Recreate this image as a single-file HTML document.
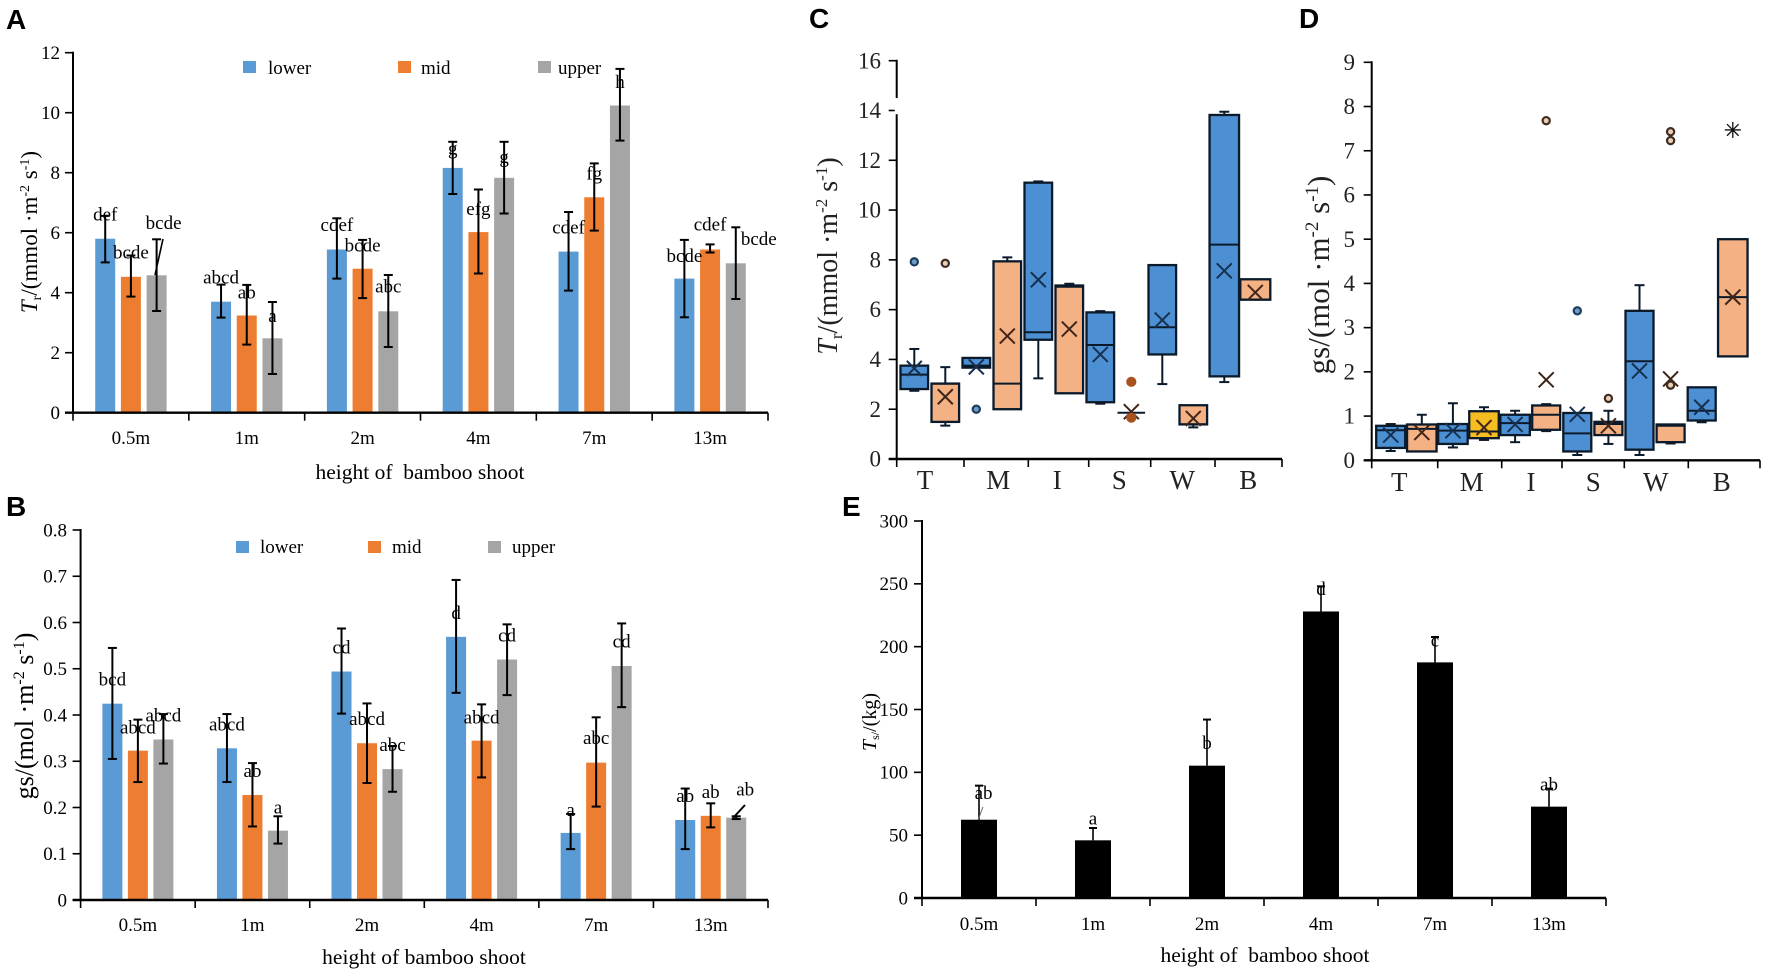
<!DOCTYPE html>
<html lang="en">
<head>
<meta charset="utf-8">
<title>Bamboo shoot transpiration and stomatal conductance</title>
<style>
html,body{margin:0;padding:0;background:#fff;}
svg{display:block;font-family:"Liberation Serif",serif;}
.panel-letter{font-family:"Liberation Sans",sans-serif;font-weight:700;}
</style>
</head>
<body>
<svg id="fig" xmlns="http://www.w3.org/2000/svg" width="1772" height="978" viewBox="0 0 1772 978">
  <rect x="0" y="0" width="1772" height="978" fill="#fff"/>

  <text class="panel-letter" x="6" y="29" font-size="28">A</text>
  <text class="panel-letter" x="6" y="516" font-size="28">B</text>
  <text class="panel-letter" x="809" y="28" font-size="28">C</text>
  <text class="panel-letter" x="1299" y="28" font-size="28">D</text>
  <text class="panel-letter" x="842" y="516" font-size="28">E</text>

  <text transform="translate(37,232) rotate(-90)" text-anchor="middle" font-size="23"><tspan font-style="italic">T</tspan><tspan font-size="14" dy="4">r</tspan><tspan dy="-4">/(mmol ·m</tspan><tspan font-size="14" dy="-8">-2</tspan><tspan dy="8"> s</tspan><tspan font-size="14" dy="-8">-1</tspan><tspan dy="8">)</tspan></text>
  <text x="420" y="479" text-anchor="middle" font-size="21.5" xml:space="preserve">height of  bamboo shoot</text>

  <text transform="translate(33,716) rotate(-90)" text-anchor="middle" font-size="26">gs/(mol ·m<tspan font-size="16" dy="-9">-2</tspan><tspan dy="9"> s</tspan><tspan font-size="16" dy="-9">-1</tspan><tspan dy="9">)</tspan></text>
  <text x="424" y="964" text-anchor="middle" font-size="21.5">height of bamboo shoot</text>

  <text transform="translate(837,256) rotate(-90)" text-anchor="middle" font-size="28" fill="#222"><tspan font-style="italic">T</tspan><tspan font-size="17" dy="5">r</tspan><tspan dy="-5">/(mmol ·m</tspan><tspan font-size="17" dy="-10">-2</tspan><tspan dy="10"> s</tspan><tspan font-size="17" dy="-10">-1</tspan><tspan dy="10">)</tspan></text>

  <text transform="translate(1329,275) rotate(-90)" text-anchor="middle" font-size="31" fill="#222">gs/(mol ·m<tspan font-size="19" dy="-11">-2</tspan><tspan dy="11"> s</tspan><tspan font-size="19" dy="-11">-1</tspan><tspan dy="11">)</tspan></text>

  <text transform="translate(876,722) rotate(-90)" text-anchor="middle" font-size="20"><tspan font-style="italic">T</tspan><tspan font-size="12" dy="3">s/</tspan><tspan dy="-3">/(kg)</tspan></text>
  <text x="1265" y="962" text-anchor="middle" font-size="21.5" xml:space="preserve">height of  bamboo shoot</text>

  <g id="legend-a">
    <rect x="243" y="61" width="13" height="12" fill="#5b9bd5"/>
    <text x="268" y="74" font-size="19">lower</text>
    <rect x="398" y="61" width="13" height="12" fill="#ed7d31"/>
    <text x="421" y="74" font-size="19">mid</text>
    <rect x="538" y="61" width="13" height="12" fill="#a5a5a5"/>
    <text x="558" y="74" font-size="19">upper</text>
  </g>
  <g id="legend-b">
    <rect x="236" y="541" width="13" height="12" fill="#5b9bd5"/>
    <text x="260" y="553" font-size="19">lower</text>
    <rect x="368" y="541" width="13" height="12" fill="#ed7d31"/>
    <text x="392" y="553" font-size="19">mid</text>
    <rect x="488" y="541" width="13" height="12" fill="#a5a5a5"/>
    <text x="512" y="553" font-size="19">upper</text>
  </g>

  <g id="panel-a"></g>
  <g id="panel-b"></g>
  <g id="panel-c"></g>
  <g id="panel-d"></g>
  <g id="panel-e"></g>

  <line x1="163" y1="239" x2="155" y2="275" stroke="#000" stroke-width="1.6"/>
  <line x1="745" y1="805" x2="733" y2="818" stroke="#000" stroke-width="2"/>
  <line x1="983" y1="807" x2="978" y2="820" stroke="#666" stroke-width="1"/>
</svg>

<script>
const heightCategories = ['0.5m', '1m', '2m', '4m', '7m', '13m'];
const organCategories = ['T', 'M', 'I', 'S', 'W', 'B'];

/* Panel A */
const aTicks = [0, 2, 4, 6, 8, 10, 12];
const aLower = [5.8, 3.7, 5.44, 8.16, 5.37, 4.47];
const aMid = [4.53, 3.24, 4.8, 6.02, 7.18, 5.44];
const aUpper = [4.58, 2.48, 3.38, 7.83, 10.24, 4.98];
const aLowerHi = [6.56, 4.27, 6.48, 9.03, 6.69, 5.76];
const aLowerLo = [5.01, 3.17, 4.47, 7.29, 4.07, 3.18];
const aMidHi = [5.24, 4.26, 5.76, 7.44, 8.31, 5.61];
const aMidLo = [3.87, 2.27, 3.82, 4.64, 6.07, 5.34];
const aUpperHi = [5.78, 3.69, 4.59, 9.03, 11.46, 6.18];
const aUpperLo = [3.39, 1.29, 2.19, 6.64, 9.07, 3.79];
const aLowerTags = ['def', 'abcd', 'cdef', 'g', 'cdef', 'bcde'];
const aMidTags = ['bcde', 'ab', 'bcde', 'efg', 'fg', 'cdef'];
const aUpperTags = ['bcde', 'a', 'abc', 'g', 'h', 'bcde'];
const aLowerTagAt = [6.61, 4.5, 6.26, 8.81, 6.17, 5.23];
const aMidTagAt = [5.34, 4.01, 5.57, 6.79, 7.98, 6.28];
const aUpperTagAt = [6.33, 3.23, 4.2, 8.53, 11.03, 5.79];

/* Panel B */
const bTicks = [0, 0.1, 0.2, 0.3, 0.4, 0.5, 0.6, 0.7, 0.8];
const bLower = [0.4245, 0.328, 0.494, 0.569, 0.145, 0.173];
const bMid = [0.323, 0.227, 0.339, 0.3445, 0.297, 0.182];
const bUpper = [0.347, 0.15, 0.283, 0.52, 0.506, 0.178];
const bLowerHi = [0.545, 0.402, 0.587, 0.692, 0.186, 0.241];
const bLowerLo = [0.305, 0.255, 0.403, 0.448, 0.11, 0.11];
const bMidHi = [0.39, 0.296, 0.425, 0.423, 0.395, 0.209];
const bMidLo = [0.255, 0.159, 0.253, 0.265, 0.202, 0.157];
const bUpperHi = [0.402, 0.181, 0.333, 0.596, 0.598, 0.181];
const bUpperLo = [0.295, 0.122, 0.234, 0.443, 0.417, 0.175];
const bLowerTags = ['bcd', 'abcd', 'cd', 'd', 'a', 'ab'];
const bMidTags = ['abcd', 'ab', 'abcd', 'abcd', 'abc', 'ab'];
const bUpperTags = ['abcd', 'a', 'abc', 'cd', 'cd', 'ab'];
const bLowerTagAt = [0.477, 0.38, 0.546, 0.621, 0.195, 0.225];
const bMidTagAt = [0.373, 0.279, 0.391, 0.395, 0.35, 0.234];
const bUpperTagAt = [0.399, 0.2, 0.335, 0.572, 0.559, 0.239];

/* Panel C */
const cTicks = [0, 2, 4, 6, 8, 10, 12, 14, 16];
const cQ3 = [3.75, 3.03, 4.06, 7.94, 11.1, 6.97, 5.89, 1.86, 7.79, 2.16, 13.82, 7.22];
const cMedian = [3.39, 3.03, 3.75, 3.03, 5.09, 6.92, 4.58, 1.86, 5.29, 1.39, 8.61, 6.4];
const cQ1 = [2.81, 1.49, 3.67, 2.0, 4.79, 2.64, 2.28, 1.86, 4.2, 1.39, 3.32, 6.4];
const cWhiskerHi = [4.42, 3.69, 4.06, 8.1, 11.15, 7.04, 5.94, 1.86, 7.79, 2.16, 13.95, 7.22];
const cWhiskerLo = [2.74, 1.34, 3.67, 2.0, 3.24, 2.64, 2.22, 1.86, 3.01, 1.27, 3.09, 6.4];
const cMean = [3.64, 2.5, 3.7, 4.94, 7.2, 5.22, 4.2, 1.9, 5.58, 1.63, 7.56, 6.69];
const cOutliers = [[7.92], [7.86], [2.0], [], [], [], [], [3.1, 1.66], [], [], [], []];

/* Panel D */
const dTicks = [0, 1, 2, 3, 4, 5, 6, 7, 8, 9];
const dQ3 = [0.78, 0.81, 0.82, 1.11, 1.03, 1.24, 1.07, 0.87, 3.38, 0.81, 1.65, 5.0];
const dMedian = [0.68, 0.71, 0.67, 0.65, 0.84, 1.03, 0.61, 0.82, 2.24, 0.78, 1.12, 3.69];
const dQ1 = [0.28, 0.2, 0.37, 0.5, 0.57, 0.69, 0.2, 0.57, 0.24, 0.41, 0.9, 2.35];
const dWhiskerHi = [0.82, 1.03, 1.29, 1.2, 1.12, 1.27, 1.07, 1.12, 3.96, 0.81, 1.65, 5.0];
const dWhiskerLo = [0.21, 0.2, 0.29, 0.46, 0.41, 0.66, 0.12, 0.37, 0.12, 0.38, 0.86, 2.35];
const dMean = [0.57, 0.63, 0.67, 0.74, 0.81, 1.82, 1.04, 0.78, 2.02, 1.84, 1.2, 3.69];
const dOutliers = [[], [], [], [], [], [7.68], [3.38], [1.4], [], [7.43, 7.23, 1.7], [], []];
const dExtremes = [null, null, null, null, null, null, null, null, null, null, null, 7.47];

/* Panel E */
const eTicks = [0, 50, 100, 150, 200, 250, 300];
const eValues = [62.3, 45.9, 105.3, 228, 187.5, 72.7];
const eHi = [89.4, 55.7, 142, 248, 207.7, 87];
const eTags = ['ab', 'a', 'b', 'd', 'c', 'ab'];
const eTagAt = [83.6, 63.1, 123.3, 245.9, 205, 90.2];

const NS = 'http://www.w3.org/2000/svg';
function node(parent, tag, attrs, txt) {
  const el = document.createElementNS(NS, tag);
  Object.keys(attrs).forEach(k => el.setAttribute(k, attrs[k]));
  if (txt !== undefined) el.textContent = txt;
  parent.appendChild(el);
  return el;
}
function linearY(y0, yTop, vMax) {
  return v => y0 - (y0 - yTop) * v / vMax;
}

function drawAxes(g, geo, yTicks, y, xTickPositions, fmt) {
  const yAxis = node(g, 'line', {x1: geo.x0, x2: geo.x0, y1: y(yTicks[yTicks.length - 1]) - 1, y2: geo.y0 + 1, stroke: '#000', 'stroke-width': 2});
  
  
  const xAxis = node(g, 'line', {x1: geo.x0 - geo.tick, x2: geo.x1, y1: geo.y0, y2: geo.y0, stroke: '#000', 'stroke-width': 2.4});
  
  
  yTicks.forEach(t => {
    const tk = node(g, 'line', {x1: geo.x0 - geo.tick, x2: geo.x0, y1: y(t), y2: y(t), stroke: '#000', 'stroke-width': 1.6});
    
    
    const lb = node(g, 'text', {x: geo.yLabelX, y: y(t) + geo.yFont * 0.33, 'text-anchor': 'end', 'font-size': geo.yFont, fill: geo.ink}, fmt(t));
    
    
  });
  xTickPositions.forEach(px => {
    const tk = node(g, 'line', {x1: px, x2: px, y1: geo.y0, y2: geo.y0 + 8, stroke: '#000', 'stroke-width': 1.6});
    
    
  });
}

function drawGrouped(id, geo, yTicks, fmt, series) {
  const g = document.getElementById(id);
  const y = linearY(geo.y0, geo.yTop, yTicks[yTicks.length - 1]);
  const slot = (geo.x1 - geo.x0) / heightCategories.length;
  const cx = i => geo.x0 + slot * (i + 0.5);
  const ticks = heightCategories.map((c, i) => geo.x0 + slot * i).concat([geo.x1]);
  series.forEach((s, sIdx) => {
    const dx = (sIdx - 1) * geo.offset;
    s.values.forEach((v, i) => {
      const bar = node(g, 'rect', {x: cx(i) + dx - 10, y: y(v), width: 20, height: geo.y0 - y(v), fill: s.color});
      
      
    });
  });
  drawAxes(g, geo, yTicks, y, ticks, fmt);
  series.forEach((s, sIdx) => {
    const dx = (sIdx - 1) * geo.offset;
    s.values.forEach((v, i) => {
      const px = cx(i) + dx;
      const stem = node(g, 'line', {x1: px, x2: px, y1: y(s.hi[i]), y2: y(s.lo[i]), stroke: '#000', 'stroke-width': 2});
      
      
      [s.hi[i], s.lo[i]].forEach(e => {
        const cap = node(g, 'line', {x1: px - 4.5, x2: px + 4.5, y1: y(e), y2: y(e), stroke: '#000', 'stroke-width': 2});
        
        
      });
    });
  });
  series.forEach((s, sIdx) => {
    const dx = (sIdx - 1) * geo.offset;
    s.tags.forEach((t, i) => {
      const nudge = (s.nudge && s.nudge[i]) || 0;
      const lb = node(g, 'text', {x: cx(i) + dx + nudge, y: y(s.tagAt[i]) + 6, 'text-anchor': 'middle', 'font-size': 19}, t);
      
      
    });
  });
  heightCategories.forEach((c, i) => {
    const lb = node(g, 'text', {x: cx(i), y: geo.catY, 'text-anchor': 'middle', 'font-size': 19}, c);
    
    
  });
}

drawGrouped('panel-a', {x0: 73, x1: 768, y0: 412.7, yTop: 52.7, offset: 25.7, tick: 8, yLabelX: 60, yFont: 19, catY: 444, ink: '#000'}, aTicks, String, [
  {values: aLower, hi: aLowerHi, lo: aLowerLo, tags: aLowerTags, tagAt: aLowerTagAt, color: '#5b9bd5'},
  {values: aMid, hi: aMidHi, lo: aMidLo, tags: aMidTags, tagAt: aMidTagAt, color: '#ed7d31'},
  {values: aUpper, hi: aUpperHi, lo: aUpperLo, tags: aUpperTags, tagAt: aUpperTagAt, color: '#a5a5a5', nudge: {0: 7, 5: 23}}
]);

drawGrouped('panel-b', {x0: 80.6, x1: 768, y0: 900, yTop: 530, offset: 25.5, tick: 8, yLabelX: 67, yFont: 19, catY: 931, ink: '#000'}, bTicks, String, [
  {values: bLower, hi: bLowerHi, lo: bLowerLo, tags: bLowerTags, tagAt: bLowerTagAt, color: '#5b9bd5'},
  {values: bMid, hi: bMidHi, lo: bMidLo, tags: bMidTags, tagAt: bMidTagAt, color: '#ed7d31'},
  {values: bUpper, hi: bUpperHi, lo: bUpperLo, tags: bUpperTags, tagAt: bUpperTagAt, color: '#a5a5a5', nudge: {5: 9}}
]);

function drawBoxes(id, geo, yTicks, q3, med, q1, wHi, wLo, mean, outliers, extremes) {
  const g = document.getElementById(id);
  const y = linearY(geo.y0, geo.yTop, yTicks[yTicks.length - 1]);
  const xAt = i => geo.first + geo.step * i;
  drawAxes(g, geo, yTicks, y, geo.xTicks, String);
  if (geo.breakFrom !== undefined) {
    const gap = node(g, 'rect', {x: geo.x0 - 2, y: y(geo.breakTo), width: 4, height: y(geo.breakFrom) - y(geo.breakTo), fill: '#fff'});
    
    
  }
  q3.forEach((top, i) => {
    const blue = i % 2 === 0;
    const fill = geo.fills[i] || (blue ? '#4d8fd3' : '#f4b183');
    const px = xAt(i);
    const hw = (geo.boxW[i] || geo.defaultW) / 2;
    const ink = '#0b1a2b';
    const markInk = blue ? '#16304f' : '#3f2418';
    [wHi[i], wLo[i]].forEach((w, k) => {
      const edge = k === 0 ? top : q1[i];
      if (w === edge) return;
      const stem = node(g, 'line', {x1: px, x2: px, y1: y(w), y2: y(edge), stroke: ink, 'stroke-width': 2});
      
      
      const cap = node(g, 'line', {x1: px - 5, x2: px + 5, y1: y(w), y2: y(w), stroke: ink, 'stroke-width': 2});
      
      
    });
    const box = node(g, 'rect', {x: px - hw, y: y(top), width: hw * 2, height: y(q1[i]) - y(top), fill: fill, stroke: ink, 'stroke-width': 2.3});
    
    
    const mid = node(g, 'line', {x1: px - hw, x2: px + hw, y1: y(med[i]), y2: y(med[i]), stroke: ink, 'stroke-width': 2});
    
    
    const m = y(mean[i]);
    [[-1, -1, 1, 1], [-1, 1, 1, -1]].forEach(d => {
      const arm = node(g, 'line', {x1: px + d[0] * 7.5, y1: m + d[1] * 7.5, x2: px + d[2] * 7.5, y2: m + d[3] * 7.5, stroke: markInk, 'stroke-width': 2});
      
      
    });
    outliers[i].forEach(o => {
      const solid = geo.solid === i;
      const dot = node(g, 'circle', {cx: px, cy: y(o), r: solid ? 4 : 3.6, fill: solid ? '#a8521f' : (blue ? '#6f9cc6' : '#e9cfb8'), stroke: solid ? '#a8521f' : (blue ? '#1d3d5c' : '#3f2c1f'), 'stroke-width': 2.2});
      
      
    });
    if (extremes && extremes[i] !== null) {
      const sy = y(extremes[i]);
      [[0, 8], [8, 0], [5.8, 5.8], [5.8, -5.8]].forEach(d => {
        const ray = node(g, 'line', {x1: px - d[0], y1: sy - d[1], x2: px + d[0], y2: sy + d[1], stroke: '#111', 'stroke-width': 1.3});
        
        
      });
    }
  });
  organCategories.forEach((c, i) => {
    const lb = node(g, 'text', {x: geo.catX[i], y: geo.catY, 'text-anchor': 'middle', 'font-size': 27, fill: '#222'}, c);
    
    
  });
}

drawBoxes('panel-c', {
  x0: 896.7, x1: 1282, y0: 459, yTop: 60.7, tick: 8, yLabelX: 881, yFont: 23, ink: '#222',
  first: 914.3, step: 31, defaultW: 27.6, boxW: {10: 29.5, 11: 30}, fills: {},
  xTicks: [896.7, 964, 1028.3, 1088.7, 1150.7, 1215, 1282],
  catX: [925, 998.3, 1057.3, 1119.3, 1182.3, 1248.3], catY: 489,
  breakFrom: 13.85, breakTo: 14.5, solid: 7
}, cTicks, cQ3, cMedian, cQ1, cWhiskerHi, cWhiskerLo, cMean, cOutliers, null);

drawBoxes('panel-d', {
  x0: 1371.7, x1: 1760, y0: 460.3, yTop: 62.3, tick: 8, yLabelX: 1355, yFont: 23, ink: '#222',
  first: 1390.7, step: 31.1, defaultW: 28, boxW: {0: 29, 1: 29.5, 2: 29.5, 3: 29.5, 4: 29.5, 11: 29.5}, fills: {3: '#f5bd1f'},
  xTicks: [1371.7, 1437.7, 1501.7, 1562, 1624.3, 1688.3, 1760],
  catX: [1399.3, 1471.7, 1531, 1593.3, 1655.7, 1721.7], catY: 491,
  solid: -1
}, dTicks, dQ3, dMedian, dQ1, dWhiskerHi, dWhiskerLo, dMean, dOutliers, dExtremes);

(function drawE() {
  const g = document.getElementById('panel-e');
  const geo = {x0: 922, x1: 1606, y0: 898, yTop: 521, tick: 8, yLabelX: 908, yFont: 19, ink: '#000'};
  const y = linearY(geo.y0, geo.yTop, eTicks[eTicks.length - 1]);
  const slot = (geo.x1 - geo.x0) / heightCategories.length;
  const cx = i => geo.x0 + slot * (i + 0.5);
  const ticks = heightCategories.map((c, i) => geo.x0 + slot * i).concat([geo.x1]);
  eValues.forEach((v, i) => {
    const bar = node(g, 'rect', {x: cx(i) - 18, y: y(v), width: 36, height: geo.y0 - y(v), fill: '#000'});
    
    
    const stem = node(g, 'line', {x1: cx(i), x2: cx(i), y1: y(eHi[i]), y2: y(v), stroke: '#000', 'stroke-width': 1.6});
    
    
    const cap = node(g, 'line', {x1: cx(i) - 4, x2: cx(i) + 4, y1: y(eHi[i]), y2: y(eHi[i]), stroke: '#000', 'stroke-width': 2});
    
    
  });
  drawAxes(g, geo, eTicks, y, ticks, String);
  eTags.forEach((t, i) => {
    const nudge = i === 0 ? 4.6 : 0;
    const lb = node(g, 'text', {x: cx(i) + nudge, y: y(eTagAt[i]) + 6, 'text-anchor': 'middle', 'font-size': 19}, t);
    
    
  });
  heightCategories.forEach((c, i) => {
    const lb = node(g, 'text', {x: cx(i), y: 930, 'text-anchor': 'middle', 'font-size': 19}, c);
    
    
  });
})();
</script>
</body>
</html>
